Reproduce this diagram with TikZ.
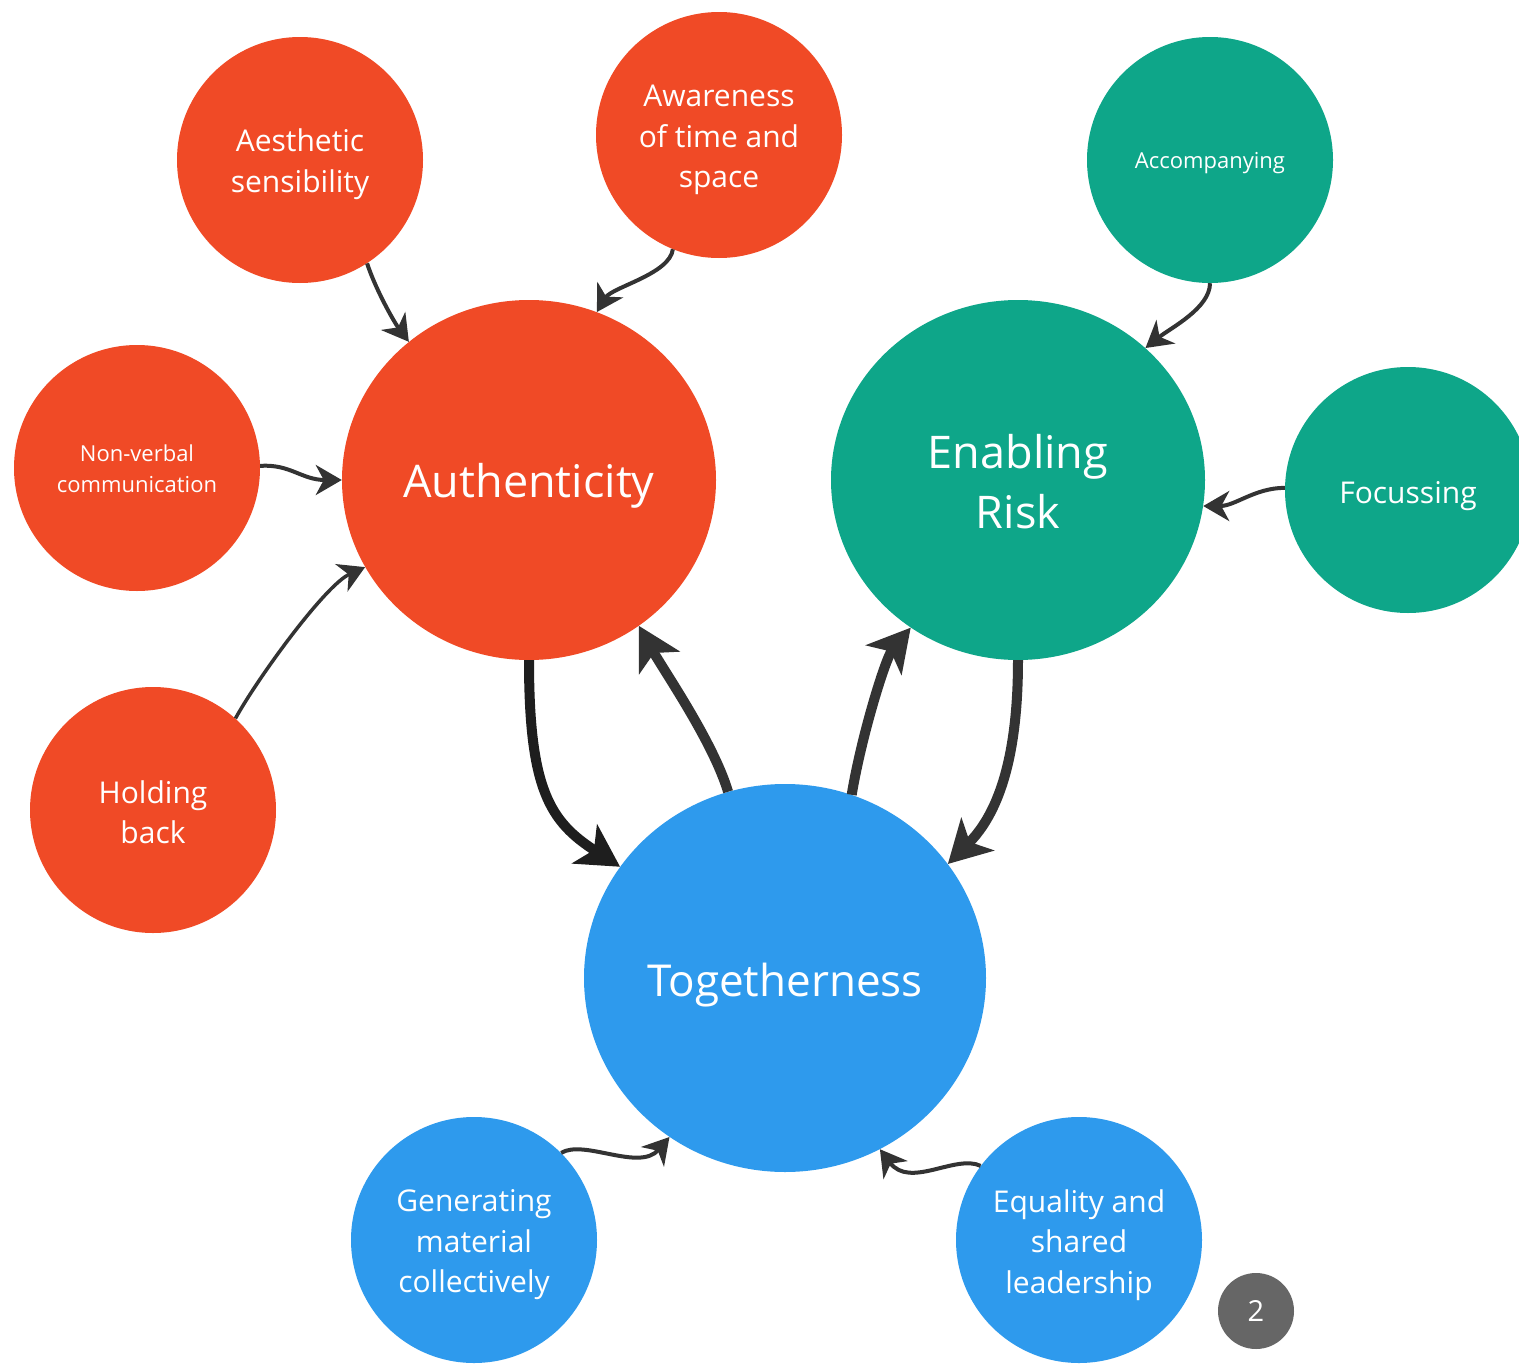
\documentclass[tikz,border=0pt]{standalone}
\usepackage{fontspec}
\setmainfont{Open Sans}
\usetikzlibrary{arrows.meta,shapes.geometric}
\definecolor{cred}{HTML}{F04A26}
\definecolor{cteal}{HTML}{0EA689}
\definecolor{cblue}{HTML}{2E9AED}
\definecolor{cbadge}{HTML}{666666}
\definecolor{carrow}{HTML}{333333}
\definecolor{carrowdark}{HTML}{1E1E1E}
\begin{document}
\begin{tikzpicture}[x=1pt,y=-1pt,
  small/.style={circle, minimum size=246pt, inner sep=0pt},
  big/.style={ellipse, inner sep=0pt, minimum width=374pt, minimum height=360pt},
  lbl/.style={text=white, align=center, inner sep=0pt, font=\fontsize{30}{40.5}\selectfont},
  lblsmall/.style={lbl, font=\fontsize{22}{31}\selectfont},
  lblbig/.style={lbl, font=\fontsize{45}{60}\selectfont},
  tarrow/.style={draw=carrow, line width=4pt, -{Stealth[length=26pt,width=30pt,inset=8pt]}},
  barrow/.style={draw=carrow, line width=10pt, -{Stealth[length=42pt,width=46pt,inset=11pt]}},
]
\useasboundingbox (0,0) rectangle (1519,1365);
\fill[white] (0,0) rectangle (1519,1365);

% big nodes
\node[big, fill=cred, label={[lblbig, yshift=-6pt]center:Authenticity}] (auth) at (529,480) {};
\node[big, fill=cteal, label={[lblbig, yshift=-2pt]center:{Enabling\\Risk}}] (enab) at (1018,480) {};
\node[big, fill=cblue, minimum width=402pt, minimum height=388pt,
      label={[lblbig, font=\fontsize{44}{60}\selectfont, yshift=-7pt]center:Togetherness}] (tog) at (785,978) {};

% small nodes
\node[small, fill=cred, label={[lbl, yshift=-4pt]center:{Aesthetic\\sensibility}}] (aest) at (300,160) {};
\node[small, fill=cred, label={[lbl, yshift=-5pt]center:{Awareness\\of time and\\space}}] (aware) at (719,135) {};
\node[small, fill=cred, label={[lblsmall, yshift=-1pt]center:{Non-verbal\\communication}}] (nonv) at (137,468) {};
\node[small, fill=cred, label={[lbl, yshift=-2pt]center:{Holding\\back}}] (hold) at (153,810) {};
\node[small, fill=cteal, label={[lblsmall, yshift=-3pt]center:Accompanying}] (acc) at (1210,160) {};
\node[small, fill=cteal, label={[lbl, yshift=-6pt]center:Focussing}] (foc) at (1408,490) {};
\node[small, fill=cblue, label={[lbl, yshift=-5pt]center:{Generating\\material\\collectively}}] (gen) at (474,1240) {};
\node[small, fill=cblue, label={[lbl, yshift=-5pt]center:{Equality and\\shared\\leadership}}] (equ) at (1079,1240) {};

% badge
\node[circle, fill=cbadge, minimum size=76pt, inner sep=0pt, text=white,
      font=\fontsize{29}{34}\selectfont] (badge) at (1256,1311) {2};

% thin arrows
\draw[tarrow] (aest.-57) .. controls +(8,25) and +(-15,-20) .. (auth.131);
\draw[tarrow] (aware.-112) .. controls +(-3,25) and +(15,-25) .. (auth.68);
\draw[tarrow] (nonv.1) .. controls +(30,-2) and +(-40,0) .. (auth.180);
\draw[tarrow, line width=3.5pt] (hold.48) .. controls +(22,-40) and +(-40,18) .. (auth.208);
\draw[tarrow] (acc.-90) .. controls +(0,25) and +(25,-20) .. (enab.46);
\draw[tarrow] (foc.179) .. controls +(-30,0) and +(32,0) .. (enab.-8);
\draw[tarrow] (gen.45) .. controls +(23,-14) and +(-30,35) .. (tog.234);
\draw[tarrow] (equ.143) .. controls +(-25,-12) and +(30,40) .. (tog.-61);

% thick arrows
\draw[barrow, draw=carrowdark] (auth.-90) .. controls +(0,130) and +(-70,-45) .. (tog.146);
\draw[barrow] (tog.107) .. controls +(-15,-50) and +(25,45) .. (auth.-53);
\draw[barrow] (tog.70) .. controls +(10,-60) and +(-25,30) .. (enab.234);
\draw[barrow] (enab.-90) .. controls +(0,110) and +(45,-45) .. (tog.35);
\end{tikzpicture}
\end{document}
